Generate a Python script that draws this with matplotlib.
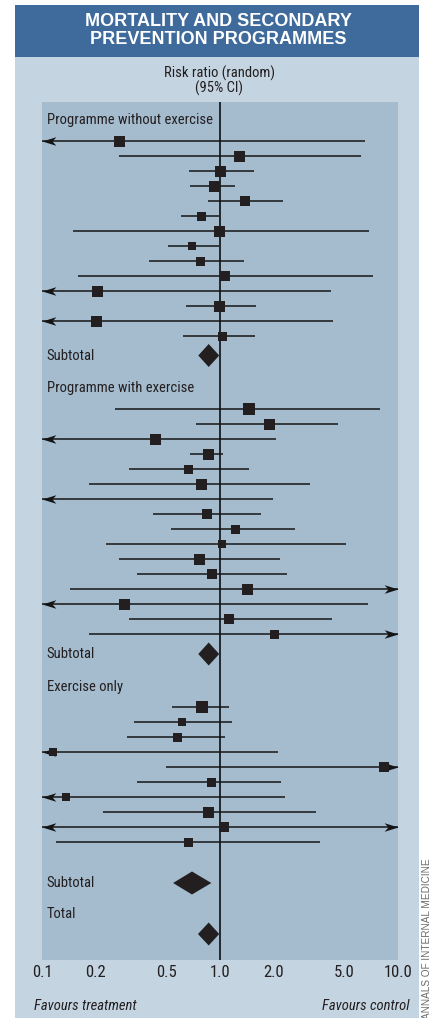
import numpy as np
import matplotlib
matplotlib.use("Agg")
import matplotlib.pyplot as plt
from matplotlib.path import Path
from matplotlib.patches import Rectangle, Polygon
from matplotlib.transforms import blended_transform_factory
from matplotlib.ticker import NullFormatter
from matplotlib import font_manager

# ---------------- data ----------------
group_names = ["Programme without exercise", "Programme with exercise", "Exercise only"]

# Programme without exercise
g1_est = [0.27, 1.28, 1.00, 0.93, 1.38, 0.78, 0.99, 0.70, 0.77, 1.06, 0.205, 0.99, 0.20, 1.02]
g1_lo = [0.05, 0.27, 0.67, 0.68, 0.86, 0.60, 0.15, 0.51, 0.40, 0.16, 0.05, 0.64, 0.05, 0.62]
g1_hi = [6.5, 6.2, 1.55, 1.22, 2.25, 0.99, 6.9, 0.99, 1.37, 7.2, 4.2, 1.59, 4.3, 1.57]
g1_wt = [11, 11, 11, 11, 10, 9, 11, 8.3, 9, 10.7, 11, 11, 11, 9]

# Programme with exercise
g2_est = [1.45, 1.89, 0.43, 0.86, 0.66, 0.785, 0.07, 0.84, 1.22, 1.02, 0.765, 0.90, 1.41, 0.29, 1.13, 2.02]
g2_lo = [0.256, 0.73, 0.05, 0.68, 0.31, 0.184, 0.05, 0.42, 0.53, 0.23, 0.27, 0.34, 0.144, 0.05, 0.31, 0.184]
g2_hi = [7.9, 4.6, 2.07, 1.035, 1.45, 3.2, 1.98, 1.71, 2.63, 5.1, 2.18, 2.39, 15.0, 6.8, 4.24, 15.0]
g2_wt = [11.5, 11, 11, 11, 9, 11, 8, 10, 9, 8, 11, 10, 11, 11, 10, 9]

# Exercise only
g3_est = [0.79, 0.61, 0.57, 0.115, 8.3, 0.89, 0.136, 0.86, 1.05, 0.66]
g3_lo = [0.54, 0.33, 0.30, 0.05, 0.50, 0.34, 0.05, 0.22, 0.05, 0.12]
g3_hi = [1.13, 1.17, 1.06, 2.13, 15.0, 2.20, 2.31, 3.46, 15.0, 3.65]
g3_wt = [12, 8, 9, 8.3, 10, 9, 8, 11, 10, 9]

# pooled estimates (lower, estimate, upper)
subtotal_lo = [0.755, 0.755, 0.545]
subtotal_est = [0.864, 0.864, 0.696]
subtotal_hi = [0.99, 0.99, 0.894]
total_lo, total_est, total_hi = 0.752, 0.864, 0.99

tick_values = [0.1, 0.2, 0.5, 1.0, 2.0, 5.0, 10.0]
tick_labels = ["0.1", "0.2", "0.5", "1.0", "2.0", "5.0", "10.0"]

# ---------------- style ----------------
W, H = 429, 1018
PANEL = "#c4d4e1"
PLOT = "#a5bccf"
BAND = "#3e6a9c"
INK = "#231f20"

names = {f.name for f in font_manager.fontManager.ttflist}
NARROW = None
for cand in ["Liberation Sans Narrow", "Roboto Condensed", "Open Sans Condensed", "DejaVu Sans Condensed"]:
    if cand in names:
        NARROW = cand
        break
if NARROW is None:
    NARROW = "Roboto" if "Roboto" in names else "Liberation Sans"
plt.rcParams["font.family"] = [NARROW, "DejaVu Sans"]
FS = 10.5 if "Narrow" in NARROW or "Condensed" in NARROW else 9.6

fig = plt.figure(figsize=(W / 100, H / 100), dpi=100)
fig.patch.set_facecolor("white")


def fx(px):
    return px / W


def fy(py):
    return 1 - py / H


fig.patches.append(Rectangle((fx(15), 0), fx(419) - fx(15), fy(5), transform=fig.transFigure,
                             facecolor=PANEL, edgecolor="none", zorder=-2))
fig.patches.append(Rectangle((fx(15), fy(57)), fx(419) - fx(15), fy(5) - fy(57),
                             transform=fig.transFigure, facecolor=BAND, edgecolor="none", zorder=-1))

fig.text(fx(218), fy(21), "MORTALITY AND SECONDARY", ha="center", va="center", color="white",
         fontsize=13, weight="bold", family=["Liberation Sans", "DejaVu Sans"])
fig.text(fx(218), fy(39), "PREVENTION PROGRAMMES", ha="center", va="center", color="white",
         fontsize=13, weight="bold", family=["Liberation Sans", "DejaVu Sans"])
fig.text(fx(219), fy(73), "Risk ratio (random)", ha="center", va="center", color=INK, fontsize=FS)
fig.text(fx(219), fy(88), "(95% CI)", ha="center", va="center", color=INK, fontsize=FS)

ax_h = 858
ax = fig.add_axes([fx(42), fy(960), fx(398) - fx(42), fy(102) - fy(960)])
ax.set_facecolor(PLOT)
ax.set_xscale("log")
ax.set_xlim(0.1, 10)
ax.set_ylim(ax_h, 0)
for s in ax.spines.values():
    s.set_visible(False)
ax.set_yticks([])

ax.set_xticks(tick_values)
ax.set_xticklabels(tick_labels)
ax.set_xticks([0.2, 0.5, 1.0, 2.0, 5.0], minor=True)
ax.xaxis.set_minor_formatter(NullFormatter())
ax.tick_params(axis="x", which="major", length=0, pad=3.5, labelsize=FS + 1.5, labelcolor=INK)
ax.tick_params(axis="x", which="minor", direction="in", length=5, width=1.5, color="white")

ax.axvline(1.0, color="black", lw=1.1, zorder=2)

left_head = Path([(0, 0), (2, 0.62), (1.45, 0), (2, -0.62), (0, 0)],
                 [Path.MOVETO, Path.LINETO, Path.LINETO, Path.LINETO, Path.CLOSEPOLY])
right_head = Path([(0, 0), (-2, 0.62), (-1.45, 0), (-2, -0.62), (0, 0)],
                  [Path.MOVETO, Path.LINETO, Path.LINETO, Path.LINETO, Path.CLOSEPOLY])

lab_tf = blended_transform_factory(ax.transAxes, ax.transData)
xmin, xmax = ax.get_xlim()


def label(y, text):
    ax.text(0.013, y, text, transform=lab_tf, ha="left", va="center", color=INK, fontsize=FS)


def study(y, est, lo, hi, wt):
    x0, x1 = max(lo, xmin), min(hi, xmax)
    ax.plot([x0, x1], [y, y], color="#151515", lw=1.1, solid_capstyle="butt", zorder=3)
    if lo < xmin:
        ax.plot([xmin], [y], marker=left_head, ms=20, color="#151515", mew=0, zorder=3)
    if hi > xmax:
        ax.plot([xmax], [y], marker=right_head, ms=20, color="#151515", mew=0, zorder=3)
    ax.plot([est], [y], marker="s", ms=wt * 0.72, color=INK, mew=0, zorder=4)


def diamond(y, lo, est, hi, h=23):
    ax.add_patch(Polygon([(lo, y), (est, y - h / 2), (hi, y), (est, y + h / 2)], closed=True,
                         facecolor=INK, edgecolor="none", zorder=4))


groups = [(g1_est, g1_lo, g1_hi, g1_wt), (g2_est, g2_lo, g2_hi, g2_wt), (g3_est, g3_lo, g3_hi, g3_wt)]
row_step = 15
subtotal_gap = [20, 20.5, 41]
y = 18
for gi, (est, lo, hi, wt) in enumerate(groups):
    label(y, group_names[gi])
    y += 20.5
    for k in range(len(est)):
        study(y, est[k], lo[k], hi[k], wt[k])
        if k < len(est) - 1:
            y += row_step
    y += subtotal_gap[gi]
    label(y, "Subtotal")
    diamond(y, subtotal_lo[gi], subtotal_est[gi], subtotal_hi[gi])
    y += 32.5

y -= 1.5
label(y, "Total")
y += 20
diamond(y, total_lo, total_est, total_hi)

fig.text(fx(34), fy(1006), "Favours treatment", ha="left", va="center", style="italic",
         color=INK, fontsize=FS)
fig.text(fx(410), fy(1006), "Favours control", ha="right", va="center", style="italic",
         color=INK, fontsize=FS)
fig.text(fx(426.5), fy(858), "ANNALS OF INTERNAL MEDICINE", rotation=90, ha="center", va="top",
         color="#6b6b6b", fontsize=7.2, family=["Liberation Sans", "DejaVu Sans"])

fig.savefig("out.png", dpi=100, facecolor="white")
